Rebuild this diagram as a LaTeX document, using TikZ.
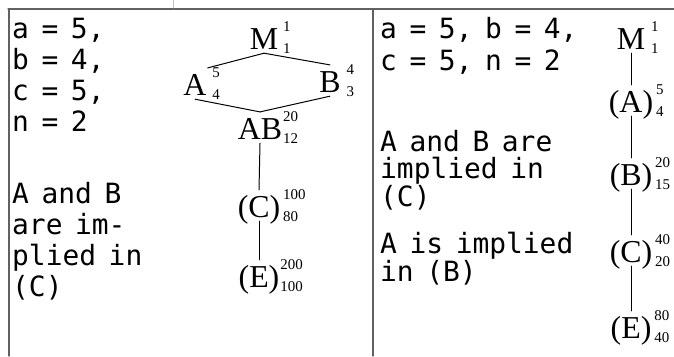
\documentclass[tikz,border=0pt]{standalone}
\usepackage{fontspec}
\setmainfont{Liberation Serif}
\newfontfamily\notefont[WordSpace=0.75]{DejaVu Sans Mono}
\usetikzlibrary{calc}

% element with upper and lower index hanging to the right
\newcommand{\lat}[4][3pt]{#2\rlap{\fontsize{15}{15}\selectfont\kern#1\rlap{\raisebox{18pt}{#3}}\raisebox{-5pt}{#4}}}

\tikzset{
    note/.style={
        anchor=base west, align=left, inner sep=0pt,
        font=\notefont\fontsize{28}{31}\selectfont
    },
    elem/.style={
        anchor=base, inner sep=1pt, text height=26pt, text depth=3pt,
        font=\fontsize{32}{32}\selectfont
    },
    rule/.style={draw=black!62, line width=1.3pt},
    edge/.style={draw=black, line width=1pt}
}

\begin{document}
\begin{tikzpicture}[x=1bp,y=-1bp,line cap=round,line join=round]

% --- frame ---
    \useasboundingbox (0,0) rectangle (674,356);
    \draw[rule] (8,9) -- (674,9);
    \draw[rule] (9,9) -- (9,356);
    \draw[rule] (373,9) -- (373,356);
    \draw[draw=black!25, line width=0.8pt] (173,0) -- (173,8);

% left column text (anchored at the last baseline)
    \node[note] (condL) at (12,131) {a = 5,\\b = 4,\\c = 5,\\n = 2};
    \node[note] (implL) at (12,296) {A and B\\are im-\\plied in\\(C)};

% right column text
    \node[note, font=\notefont\fontsize{28}{32}\selectfont] (condR) at (380,70) {a = 5, b = 4,\\c = 5, n = 2};
    \node[note, font=\notefont\fontsize{28}{27}\selectfont] (implR) at (380,206) {A and B are\\implied in\\(C)};
    \node[note, font=\notefont\fontsize{28}{28}\selectfont] (implB) at (380,281) {A is implied\\in (B)};

% left lattice
    \node[elem] (M1) at (264,49) {\lat[5pt]{M}{1}{1}};
    \node[elem] (A1) at (195,95) {\lat[6pt]{A}{5}{4}};
    \node[elem] (B1) at (330,92) {\lat[6pt]{B}{4}{3}};
    \node[elem] (AB1) at (260,139) {\lat[1pt]{AB}{20}{12}};
    \node[elem] (C1) at (259,217) {\lat{(C)}{100}{80}};
    \node[elem] (E1) at (259,287) {\lat[1pt]{(E)}{200}{100}};

    \draw[edge] (M1.south) -- (A1.north east);
    \draw[edge] (M1.south) -- (B1.north);
    \draw[edge] (A1.south) -- (AB1.north);
    \draw[edge] (B1.south) -- (AB1.north);
    \draw[edge] (AB1.south) -- (C1.north);
    \draw[edge] (C1.south) -- (E1.north);

% right chain
    \node[elem] (M2) at (631,49) {\lat[6pt]{M}{1}{1}};
    \node[elem] (A2) at (631,112) {\lat{(A)}{5}{4}};
    \node[elem] (B2) at (631,185) {\lat{(B)}{20}{15}};
    \node[elem] (C2) at (631,262) {\lat{(C)}{40}{20}};
    \node[elem] (E2) at (631,338) {\lat{(E)}{80}{40}};

    \foreach \u/\v in {M2/A2, A2/B2, B2/C2, C2/E2}
        \draw[edge] (\u.south) -- (\v.north);

\end{tikzpicture}
\end{document}
